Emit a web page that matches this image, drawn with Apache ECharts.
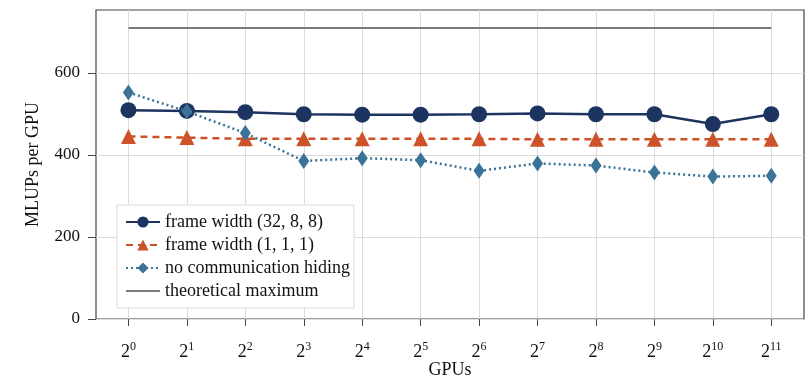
<!DOCTYPE html>
<html>
<head>
<meta charset="utf-8">
<script src="https://cdn.jsdelivr.net/npm/echarts@6/dist/echarts.min.js"></script>
<style>
html,body{margin:0;padding:0;background:#fff;}
#main{width:807px;height:379px;}
</style>
</head>
<body>
<div id="main"></div>
<script>
// x positions are log2 of GPU count
var exponents = [0,1,2,3,4,5,6,7,8,9,10,11];
var frameWide = [509,507,504,499,498,498,499,501,499,499,475,499];
var frameNarrow = [445,442,439,439,439,439,439,438,438,438,438,438];
var noHiding = [552,506,453,385,392,387,361,379,374,357,347,349];
var theoMax = 709;
var yTicks = [0,200,400,600];

var serif = '"Liberation Serif","DejaVu Serif",serif';

function pairs(vals){
	return vals.map(function(v,i){ return [exponents[i], v]; });
}

var MyEchart = echarts.init(document.getElementById('main'));
var option = {
	animation:false,
	textStyle:{fontFamily:serif},
	grid:{
		left:96, right:3, top:10, bottom:60,
		outerBoundsMode:'none',
		containLabel:false,
		show:true, borderColor:'#444', borderWidth:1.2
	},
	legend:{
		orient:'vertical',
		left:117, top:205,
		backgroundColor:'#fff',
		borderColor:'#dadada', borderWidth:1,
		padding:[8,4,8,8],
		itemGap:5,
		itemWidth:34, itemHeight:14,
		textStyle:{fontFamily:serif, fontSize:18, color:'#111'},
		data:[
			'frame width (32, 8, 8)',
			'frame width (1, 1, 1)',
			'no communication hiding',
			{name:'theoretical maximum', icon:'path://M0,0L34,0L34,2L0,2Z'}
		]
	},
	xAxis:{
		type:'value',
		min:-0.555, max:11.56,
		name:'GPUs', nameLocation:'middle', nameGap:42,
		nameMoveOverlap:false,
		nameTextStyle:{fontFamily:serif, fontSize:18, color:'#111'},
		axisLine:{show:false, onZero:false},
		axisTick:{show:true, customValues:exponents, length:7, lineStyle:{color:'#444'}},
		axisLabel:{
			customValues:exponents,
			margin:22,
			formatter:function(v){ return '{b|2}{s|' + v + '}'; },
			rich:{
				b:{fontFamily:serif, fontSize:18, color:'#111', verticalAlign:'bottom'},
				s:{fontFamily:serif, fontSize:12, color:'#111', verticalAlign:'top', padding:[0,0,8,0]}
			}
		},
		splitLine:{show:true, lineStyle:{color:'#dcdcdc', width:1}}
	},
	yAxis:{
		type:'value',
		min:0, max:753,
		name:'MLUPs per GPU', nameLocation:'middle', nameGap:54,
		nameMoveOverlap:false,
		nameTextStyle:{fontFamily:serif, fontSize:18, color:'#111'},
		axisLine:{show:false, onZero:false},
		axisTick:{show:true, customValues:yTicks, length:8, lineStyle:{color:'#444'}},
		axisLabel:{customValues:yTicks, fontFamily:serif, fontSize:17, color:'#111', margin:16},
		splitLine:{show:true, lineStyle:{color:'#dcdcdc', width:1}}
	},
	series:[
		{
			name:'frame width (32, 8, 8)',
			type:'line',
			data:pairs(frameWide),
			symbol:'circle', symbolSize:16,
			lineStyle:{color:'#1d3461', width:2.5},
			itemStyle:{color:'#1d3461'},
			z:4
		},
		{
			name:'frame width (1, 1, 1)',
			type:'line',
			data:pairs(frameNarrow),
			symbol:'triangle', symbolSize:15,
			lineStyle:{color:'#cd5129', width:2.5, type:[7,5]},
			itemStyle:{color:'#cd5129'},
			z:3
		},
		{
			name:'no communication hiding',
			type:'line',
			data:pairs(noHiding),
			symbol:'diamond', symbolSize:[11,16],
			lineStyle:{color:'#3a7397', width:2.5, type:[2,3]},
			itemStyle:{color:'#3a7397'},
			z:5
		},
		{
			name:'theoretical maximum',
			type:'line',
			data:[[0,theoMax],[11,theoMax]],
			symbol:'none',
			lineStyle:{color:'#7a7a7a', width:2},
			itemStyle:{color:'#7a7a7a'},
			z:2
		}
	]
};
MyEchart.setOption(option);
</script>
</body>
</html>
